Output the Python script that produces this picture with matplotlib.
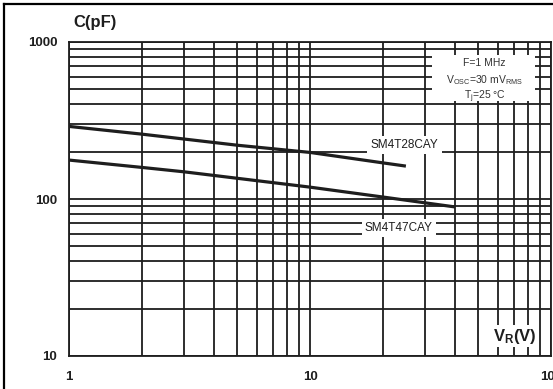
import numpy as np
import matplotlib
matplotlib.use("Agg")
import matplotlib.pyplot as plt
from matplotlib.lines import Line2D
from matplotlib.patches import Rectangle
from matplotlib.ticker import LogLocator, NullFormatter

plt.rcParams['font.family'] = ['Liberation Sans', 'DejaVu Sans']
plt.rcParams['mathtext.default'] = 'regular'

# capacitance vs reverse voltage
v_28 = [1, 2, 3, 5, 10, 20, 25]
c_28 = [290, 259, 241, 220, 198, 170, 162]
v_47 = [1, 2, 3, 10, 20, 40]
c_47 = [177, 159, 149, 119, 103, 89]

x_ticks = [1, 10, 100]
y_ticks = [10, 100, 1000]
labels = ['SM4T28CAY', 'SM4T47CAY']
cond_lines = ['F=1 MHz', 'V$_{OSC}$=30 mV$_{RMS}$', 'T$_j$=25 °C']

ink = '#1e1e1e'
fig = plt.figure(figsize=(5.53, 3.89), dpi=100)
ax = fig.add_axes([69/553, 1-356/389, 482/553, 314/389])
ax.set_xscale('log')
ax.set_yscale('log')
ax.set_xlim(1, 100)
ax.set_ylim(10, 1000)

ax.xaxis.set_minor_locator(LogLocator(base=10, subs=np.arange(2, 10)))
ax.yaxis.set_minor_locator(LogLocator(base=10, subs=np.arange(2, 10)))
ax.xaxis.set_minor_formatter(NullFormatter())
ax.yaxis.set_minor_formatter(NullFormatter())
ax.set_xticks(x_ticks)
ax.set_xticklabels([str(t) for t in x_ticks], fontweight='bold', fontsize=9.5)
ax.set_yticks(y_ticks)
ax.set_yticklabels([str(t) for t in y_ticks], fontweight='bold', fontsize=9.5)
ax.tick_params(which='both', length=0)
ax.tick_params(axis='x', pad=11, colors=ink)
ax.tick_params(axis='y', pad=8.5, colors=ink)

ax.set_axisbelow(True)
ax.grid(which='both', color=ink, lw=1.3)
for s in ax.spines.values():
    s.set_color(ink)
    s.set_linewidth(1.3)

ax.plot(v_28, c_28, color=ink, lw=2.3, solid_capstyle='butt', zorder=3)
ax.plot(v_47, c_47, color=ink, lw=2.3, solid_capstyle='butt', zorder=3)

# conditions box
ax.add_patch(Rectangle((32, 421), 86-32, 826-421, facecolor='white',
                       edgecolor='none', zorder=1.5))
for txt, yy in zip(cond_lines, [750, 588, 468]):
    ax.text(53, yy, txt, ha='center', va='center_baseline', fontsize=7.5,
            color='#333333', zorder=4)

box = dict(facecolor='white', edgecolor='none', pad=2.5)
ax.text(24.7, 221, labels[0], ha='center', va='center', fontsize=8.5,
        color=ink, bbox=box, zorder=4)
ax.text(23.4, 65.3, labels[1], ha='center', va='center', fontsize=8.5,
        color=ink, bbox=box, zorder=4)
ax.text(70.9, 13.4, 'V$_R$(V)', ha='center', va='center', fontsize=12,
        fontweight='bold', color=ink, bbox=dict(facecolor='white', edgecolor='none', pad=1),
        zorder=4)

fig.text(95/553, 1-22/389, 'C(pF)', ha='center', va='center', fontsize=12,
         fontweight='bold', color=ink)

# outer frame (left and top edges visible)
fig.add_artist(Line2D([4/553, 4/553], [0, 1-4/389], color='black', lw=1.6,
                      transform=fig.transFigure))
fig.add_artist(Line2D([4/553, 1], [1-4/389, 1-4/389], color='black', lw=1.6,
                      transform=fig.transFigure))

fig.savefig('out.png', dpi=100)
